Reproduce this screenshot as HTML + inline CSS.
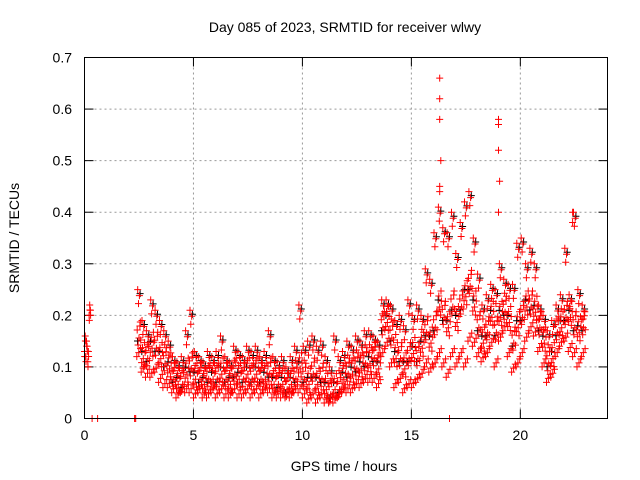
<!DOCTYPE html>
<html><head><meta charset="utf-8"><style>
body{margin:0;background:#fff}
svg{display:block;font-family:"Liberation Sans",Arial,sans-serif}
</style></head><body>
<svg id="chart" width="640" height="480">
<rect width="640" height="480" fill="#fff"/>
<text x="345" y="32" font-size="14" text-anchor="middle">Day 085 of 2023, SRMTID for receiver wlwy</text>
<text x="344" y="471" font-size="14" text-anchor="middle">GPS time / hours</text>
<text transform="translate(19,238) rotate(-90)" font-size="14" text-anchor="middle">SRMTID / TECUs</text>
<g id="grid"></g><g id="ticks"></g><g id="marks"></g>
<rect x="84.5" y="57.5" width="523" height="361" fill="none" stroke="#000"/>
</svg>
<script>
const xTicks=[0,5,10,15,20];
const yTicks=[0,0.1,0.2,0.3,0.4,0.5,0.6,0.7];
const yTickLabels=["0","0.1","0.2","0.3","0.4","0.5","0.6","0.7"];
const binStart=2.4, binWidth=0.2;
const lo=[.12,.09,.08,.08,.09,.07,.06,.06,.05,.04,.05,.05,.05,.04,.05,.04,.04,.05,.04,.05,.04,.04,.05,.04,.04,.05,.04,.05,.04,.05,.05,.04,.04,.04,.04,.04,.05,.05,.04,.03,.04,.03,.04,.03,.03,.03,.04,.05,.05,.05,.06,.06,.07,.07,.07,.06,.12,.14,.10,.06,.07,.05,.06,.06,.07,.08,.10,.09,.10,.12,.10,.08,.12,.10,.12,.10,.15,.14,.12,.11,.12,.14,.10,.15,.17,.12,.09,.10,.12,.15,.17,.16,.13,.10,.07,.08,.12,.14,.15,.13,.12,.10,.12];
const mid=[.16,.12,.12,.14,.14,.12,.11,.10,.08,.07,.07,.09,.10,.08,.08,.07,.08,.08,.08,.09,.08,.07,.09,.08,.08,.09,.08,.09,.08,.08,.09,.07,.07,.07,.06,.07,.08,.10,.08,.07,.09,.07,.08,.06,.05,.06,.06,.08,.09,.09,.10,.10,.11,.11,.12,.10,.18,.19,.16,.12,.12,.10,.12,.13,.12,.14,.17,.15,.18,.22,.20,.18,.22,.19,.22,.24,.26,.22,.18,.15,.17,.20,.17,.20,.21,.19,.15,.18,.20,.22,.22,.21,.18,.15,.11,.12,.17,.18,.20,.20,.18,.17,.18];
const hi=[.25,.19,.17,.23,.21,.19,.17,.15,.12,.11,.12,.17,.21,.13,.12,.11,.13,.12,.13,.16,.12,.11,.14,.13,.12,.14,.13,.14,.12,.13,.17,.12,.11,.12,.10,.12,.14,.22,.14,.15,.16,.14,.15,.12,.10,.16,.12,.13,.15,.14,.16,.15,.17,.17,.16,.15,.23,.23,.22,.19,.20,.18,.23,.20,.22,.20,.29,.27,.36,.41,.37,.36,.40,.32,.38,.42,.44,.35,.28,.22,.24,.26,.25,.30,.27,.26,.26,.34,.35,.30,.33,.30,.22,.20,.17,.19,.22,.24,.33,.24,.40,.25,.22];
const earlyT=[0,0.03,0.06,0.09,0.12,0.15,0.18,0.21,0.24,0.27];
const earlyV=[.13,.16,.12,.15,.14,.11,.13,.20,.22,.21];
const spikeT=[16.3,16.3,16.3,16.35,16.3,16.3,19.0,19.0,19.0,19.05,19.0,22.4,22.4];
const spikeV=[.66,.62,.58,.50,.45,.44,.58,.57,.52,.46,.40,.40,.38];
const zeroT=[0.35,0.6,2.3,2.35,16.75];
const X=t=>84.5+t*(523/24), Y=v=>418.5-v*(361/0.7);
const NS='http://www.w3.org/2000/svg';
const grid=document.getElementById('grid'),ticks=document.getElementById('ticks'),marks=document.getElementById('marks');
function mk(tag,attrs,parent){const e=document.createElementNS(NS,tag);for(const k in attrs)e.setAttribute(k,attrs[k]);parent.appendChild(e);return e;}
xTicks.forEach(t=>{
 if(t>0){const g=mk('line',{x1:X(t),x2:X(t),y1:57.5,y2:418.5,stroke:'#999','stroke-dasharray':'2,3'},grid);
 
 }
 mk('line',{x1:X(t),x2:X(t),y1:418.5,y2:409.5,stroke:'#000'},ticks);
 mk('line',{x1:X(t),x2:X(t),y1:57.5,y2:66.5,stroke:'#000'},ticks);
 const l=mk('text',{x:X(t),y:440,'font-size':14,'text-anchor':'middle'},ticks);l.textContent=t;
 
 
});
yTicks.forEach((v,i)=>{
 if(v>0&&v<0.7){const g=mk('line',{x1:84.5,x2:607.5,y1:Y(v),y2:Y(v),stroke:'#999','stroke-dasharray':'2,3'},grid);
 
 }
 mk('line',{x1:84.5,x2:93.5,y1:Y(v),y2:Y(v),stroke:'#000'},ticks);
 mk('line',{x1:607.5,x2:598.5,y1:Y(v),y2:Y(v),stroke:'#000'},ticks);
 const l=mk('text',{x:72,y:Y(v)+5,'font-size':14,'text-anchor':'end'},ticks);l.textContent=yTickLabels[i];
 
 
});
let d={red:'',black:''};
function plus(t,v,c,dy){const x=X(t),y=Y(v)+(dy||0);d[c]+=`M${(x-3.5).toFixed(1)} ${y.toFixed(1)}h7M${x.toFixed(1)} ${(y-3.5).toFixed(1)}v7`;}
for(let i=0;i<mid.length;i++){
 const t=binStart+i*binWidth;
 const s=(i%2)?1:-1;
 plus(t+0.03,mid[i],'black',-5*s);plus(t+0.15,hi[i],'black',4);
 plus(t+0.0,lo[i],'red',0);plus(t+0.09,lo[i],'red',-4);plus(t+0.17,lo[i],'red',-8);
 plus(t+0.02,mid[i],'red',6*s);plus(t+0.06,mid[i],'red',-9*s);plus(t+0.1,mid[i],'red',2);
 plus(t+0.14,mid[i],'red',10*s);plus(t+0.18,mid[i],'red',-4*s);
 plus(t+0.04,hi[i],'red',0);plus(t+0.12,hi[i],'red',6);plus(t+0.08,hi[i],'red',14);
 plus(t+0.16,mid[i],'red',-14);
}
earlyT.forEach((t,i)=>{plus(t,earlyV[i],'red',0);plus(t+0.01,earlyV[i],'red',5);});
spikeT.forEach((t,i)=>plus(t,spikeV[i],'red',0));
zeroT.forEach(t=>plus(t,0,'red',0));
const pb=mk('path',{d:d.black,stroke:'#000','stroke-width':1,fill:'none'},marks);


const pr=mk('path',{d:d.red,stroke:'#f00','stroke-width':1,fill:'none'},marks);


</script>
</body></html>
